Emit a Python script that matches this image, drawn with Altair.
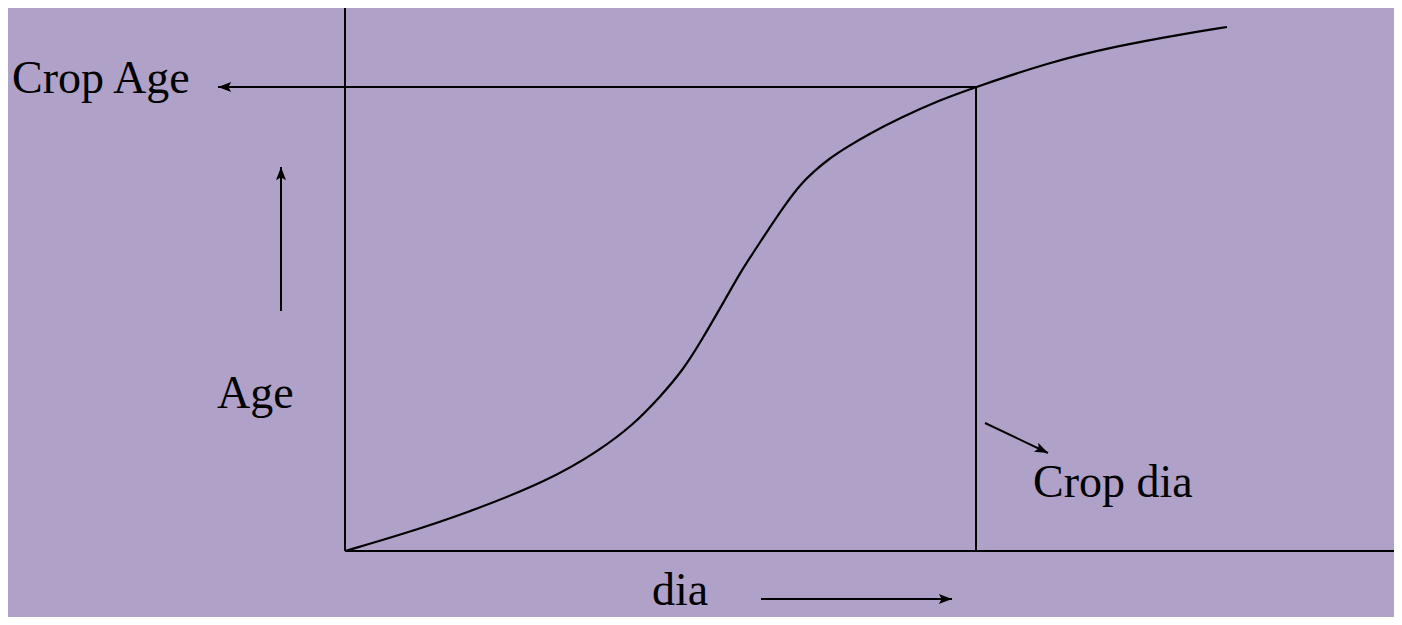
import altair as alt
import pandas as pd

# S-shaped growth curve: diameter vs age (arbitrary units)
curve_dia = [0, 5.5, 12.2, 20.5, 25.5, 28.8, 31.5, 33.8, 35.5, 38.1, 39.5,
             40.8, 42.5, 44.2, 45.5, 46.8, 48.5, 50.2, 52.2, 55.5, 59.5, 63.1,
             70.5, 77.2, 83.8, 88.2]
curve_age = [0, 1.6, 3.8, 7.1, 10.1, 12.6, 15.4, 18.1, 20.8, 25.3, 27.8,
             29.8, 32.4, 34.9, 36.6, 37.9, 39.3, 40.4, 41.6, 43.3, 45.1, 46.4,
             48.9, 50.5, 51.7, 52.4]

# straight segments (axes, crop guides, direction arrows)
seg_x1 = [0, 0, -12.7, 63.1, -6.4, 64.0, 41.6]
seg_y1 = [54.4, 0, 46.4, 46.4, 24.0, 12.8, -4.8]
seg_x2 = [0, 105.7, 63.1, 63.1, -6.4, 70.3, 60.7]
seg_y2 = [0, 0, 46.4, 0, 38.4, 9.8, -4.8]

# arrow heads
head_x = [-12.7, -6.4, 70.3, 60.7]
head_y = [46.4, 38.4, 9.8, -4.8]
head_angle = [180, 270, 25.5, 0]

# labels
label_text = ["Crop Age", "Age", "Crop dia", "dia"]
label_x = [-33.3, -12.8, 68.8, 30.7]
label_y = [45.8, 14.3, 5.4, -5.4]

W, H = 1386, 609
xs = alt.Scale(domain=[-33.7, 104.9], nice=False, zero=False)
ys = alt.Scale(domain=[-6.6, 54.3], nice=False, zero=False)

curve_df = pd.DataFrame({"dia": curve_dia, "age": curve_age})
seg_df = pd.DataFrame({"x1": seg_x1, "y1": seg_y1, "x2": seg_x2, "y2": seg_y2})
head_df = pd.DataFrame({"x": head_x, "y": head_y, "angle": head_angle})
label_df = pd.DataFrame({"text": label_text, "x": label_x, "y": label_y})

curve = alt.Chart(curve_df).mark_line(
    color="black", strokeWidth=2.2, interpolate="basis"
).encode(
    x=alt.X("dia:Q", scale=xs, axis=None),
    y=alt.Y("age:Q", scale=ys, axis=None),
)

segs = alt.Chart(seg_df).mark_rule(color="black", strokeWidth=2).encode(
    x=alt.X("x1:Q", scale=xs, axis=None),
    y=alt.Y("y1:Q", scale=ys, axis=None),
    x2="x2:Q",
    y2="y2:Q",
)

arrow_path = "M0,0L-1,-0.38L-0.78,0L-1,0.38Z"
heads = alt.Chart(head_df).mark_point(
    shape=arrow_path, filled=True, color="black", size=700, opacity=1, strokeWidth=0
).encode(
    x=alt.X("x:Q", scale=xs, axis=None),
    y=alt.Y("y:Q", scale=ys, axis=None),
    angle=alt.Angle("angle:Q", scale=None),
)

labels = alt.Chart(label_df).mark_text(
    align="left", baseline="alphabetic", font="Liberation Serif",
    fontSize=46, color="black"
).encode(
    x=alt.X("x:Q", scale=xs, axis=None),
    y=alt.Y("y:Q", scale=ys, axis=None),
    text="text:N",
)

chart = alt.layer(curve, segs, heads, labels).properties(
    width=W, height=H, background="#B0A1C8", padding=0,
    autosize=alt.AutoSizeParams(type="none")
).configure_view(stroke=None)

chart.save("out.html", embed_options={"renderer": "svg", "actions": False})
